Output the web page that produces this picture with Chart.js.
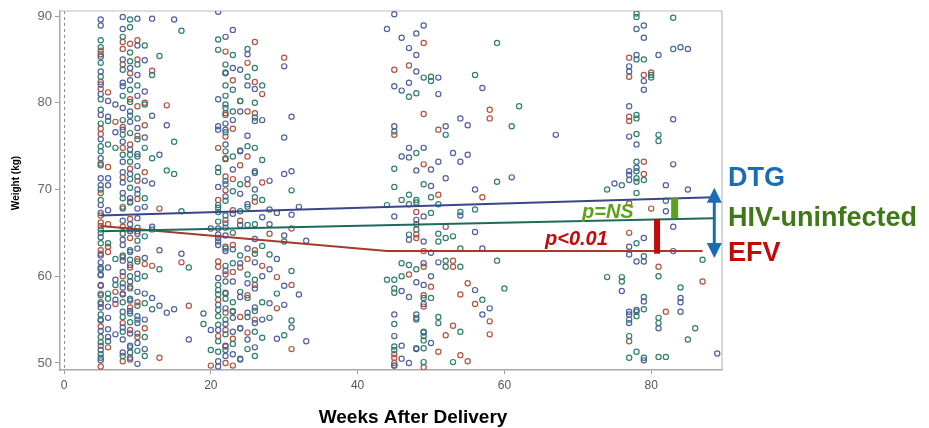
<!DOCTYPE html>
<html>
<head>
<meta charset="utf-8">
<script src="https://cdn.jsdelivr.net/npm/chart.js@4.4.1/dist/chart.umd.min.js"></script>
<style>
  html, body { margin: 0; padding: 0; background: #ffffff; }
  #wrap { width: 929px; height: 428px; }
</style>
</head>
<body>
<div id="wrap"><canvas id="chart" width="929" height="428"></canvas></div>
<script>
// Axis ticks
const xTicks = [0, 20, 40, 60, 80];
const yTicks = [50, 60, 70, 80, 90];

// Individual weights (kg) per visit week, one list per group: [week, [weights]]
const dtgVisits = [
  [5, [89.6, 88.9, 85.3, 83.6, 82.1, 81.0, 78.6, 75.8, 73.6, 71.3, 70.5, 68.2, 67.3, 64.5, 62.4, 61.6, 60.8, 60.1, 58.9, 56.4, 54.9, 53.7, 51.5, 50.3]],
  [6, [80.2, 78.4, 71.3, 70.5, 67.6, 61.0, 56.5, 55.2, 53.9, 53.0]],
  [7, [79.8, 76.6, 59.6, 57.3, 53.3]],
  [8, [89.9, 88.5, 85.0, 82.3, 81.9, 79.4, 76.9, 75.5, 73.2, 72.0, 70.8, 69.6, 66.4, 64.2, 63.6, 61.8, 60.5, 58.7, 57.9, 55.9, 54.1, 52.7, 51.2]],
  [9, [84.0, 82.6, 79.0, 77.8, 74.6, 71.8, 69.0, 66.0, 65.2, 62.8, 61.3, 59.4, 57.2, 56.0, 53.4, 51.8, 50.6]],
  [10, [89.7, 86.6, 83.2, 80.8, 77.1, 74.1, 72.7, 70.0, 67.8, 66.7, 64.9, 63.2, 60.3, 58.2, 55.4, 54.6, 52.3, 49.9]],
  [11, [84.9, 81.3, 76.0, 71.0, 68.0, 62.1, 58.0, 55.0, 51.6]],
  [12, [89.7, 78.5, 70.7, 65.7, 57.5]],
  [13, [74.0, 63.0, 56.6]],
  [14, [77.4, 55.8]],
  [15, [89.6, 56.2]],
  [16, [62.6]],
  [17, [52.7]],
  [19, [55.7]],
  [20, [65.5, 53.8]],
  [21, [90.5, 80.4, 77.3, 76.9, 70.3, 65.5, 64.8, 64.4, 64.0, 63.6, 59.8, 56.7, 53.8, 50.2, 49.6]],
  [22, [87.6, 83.5, 79.4, 77.6, 76.6, 75.2, 71.0, 69.2, 66.1, 64.7, 62.9, 60.6, 58.1, 56.3, 54.5, 52.0, 50.8]],
  [23, [88.4, 84.0, 78.0, 72.3, 67.2, 63.1, 59.4, 55.2, 53.6, 51.0]],
  [24, [83.8, 79.0, 74.4, 69.5, 65.9, 61.5, 57.6, 54.0, 50.4]],
  [25, [85.6, 82.0, 76.2, 71.2, 68.3, 63.2, 59.2, 55.8, 52.7]],
  [26, [81.6, 77.9, 72.1, 70.0, 64.3, 61.6, 58.6, 56.4, 54.6, 51.8]],
  [27, [78.0, 66.8, 60.0, 55.0]],
  [28, [71.0, 66.0, 60.8, 56.9]],
  [29, [67.3, 62.0, 52.8]],
  [30, [84.2, 76.0, 71.8, 64.7, 58.9, 56.7]],
  [31, [78.4, 72.1, 67.1, 54.1]],
  [32, [68.0, 57.9]],
  [33, [64.1, 52.5]],
  [44, [88.5]],
  [45, [90.2, 81.9, 77.3, 66.9, 55.6, 53.1, 49.7]],
  [46, [87.5, 81.4, 73.8, 58.3, 52.0, 50.5]],
  [47, [86.3, 82.3, 74.8, 73.7, 64.2, 57.6, 50.0]],
  [48, [88.0, 85.5, 83.6, 72.2, 66.5, 59.3, 55.2, 51.6]],
  [49, [88.9, 74.8, 66.9, 64.0, 61.5, 59.0, 56.8, 53.5]],
  [50, [72.3, 70.4, 62.7, 60.0, 52.3]],
  [51, [82.9, 81.0, 73.2, 61.6]],
  [52, [77.3, 71.3]],
  [53, [74.2]],
  [54, [78.2, 73.2, 67.0]],
  [55, [77.4, 74.0]],
  [56, [70.0, 65.1, 58.4]],
  [57, [81.7, 63.2, 55.6]],
  [58, [56.3]],
  [61, [71.4]],
  [67, [76.3]],
  [75, [70.7]],
  [76, [58.3]],
  [77, [84.2, 83.6, 79.6, 76.1, 72.1, 71.7, 71.1, 63.4, 62.5, 55.9, 55.6, 54.6]],
  [78, [88.5, 85.5, 75.2, 72.5, 61.7, 56.1]],
  [79, [88.9, 87.5, 82.5, 81.5, 64.4, 61.7, 57.1, 50.3]],
  [81, [85.5, 54.0]],
  [82, [70.5, 67.5]],
  [83, [78.1, 72.9, 65.7, 62.9]],
  [84, [86.4, 57.5, 57.0, 55.9]],
  [85, [86.2, 70.0]],
  [89, [51.1]]
];

const hivNegVisits = [
  [5, [87.2, 86.4, 84.6, 83.0, 80.4, 79.2, 77.6, 75.0, 74.4, 72.8, 70.0, 68.8, 65.4, 65.0, 63.8, 61.0, 60.2, 57.8, 57.0, 55.6, 55.0, 53.0, 52.4, 51.0, 50.6]],
  [6, [77.9, 75.2, 63.8, 58.0, 57.4, 52.5]],
  [7, [74.8, 62.0, 59.0]],
  [8, [87.6, 83.8, 80.8, 78.0, 76.3, 74.0, 69.0, 67.8, 64.9, 62.4, 59.2, 57.0, 55.3, 53.6, 50.8]],
  [9, [89.6, 88.7, 85.8, 84.8, 81.5, 80.1, 78.5, 76.5, 74.0, 73.2, 71.2, 70.2, 68.5, 65.4, 63.0, 61.9, 60.0, 58.6, 57.4, 55.7, 54.7, 52.0, 51.2]],
  [10, [84.4, 82.0, 78.2, 75.8, 73.8, 71.5, 69.5, 65.6, 64.1, 61.7, 59.7, 56.6, 55.0, 53.4, 51.4]],
  [11, [86.6, 79.8, 74.8, 69.0, 64.6, 60.0, 56.9, 53.0, 50.8]],
  [12, [83.2, 73.6, 65.4, 56.2]],
  [13, [85.4, 60.8]],
  [14, [72.2]],
  [15, [75.5, 71.8]],
  [16, [88.3, 67.5]],
  [17, [61.0]],
  [19, [54.5]],
  [20, [51.5]],
  [21, [87.3, 86.1, 72.5, 72.0, 68.2, 67.9, 67.4, 66.3, 59.0, 58.4, 57.9, 56.1, 55.4, 54.4, 52.5, 51.3]],
  [22, [84.4, 83.4, 82.0, 80.8, 79.8, 78.8, 76.9, 74.4, 73.5, 70.6, 68.7, 67.0, 65.6, 63.2, 61.2, 59.4, 57.4, 55.0, 53.3, 51.5]],
  [23, [85.5, 81.5, 79.0, 73.8, 69.8, 65.0, 61.5, 57.0, 55.9, 52.2]],
  [24, [80.2, 74.5, 70.6, 67.5, 62.4, 58.2, 54.0, 50.5]],
  [25, [86.2, 83.0, 75.0, 68.0, 65.9, 60.2, 57.5, 55.3, 51.6]],
  [26, [84.0, 80.0, 78.3, 74.8, 71.9, 69.1, 66.0, 62.6, 59.6, 56.0, 53.6, 50.8]],
  [27, [82.0, 73.4, 68.8, 63.5, 57.0, 52.9]],
  [28, [67.7, 62.5, 55.2]],
  [29, [58.0]],
  [30, [64.0, 53.2]],
  [31, [69.9, 60.6, 54.9]],
  [44, [68.2, 59.6]],
  [45, [76.7, 72.4, 70.3, 59.6, 58.6, 58.1, 54.5, 51.9, 51.5, 49.7]],
  [46, [68.8, 61.5, 60.0]],
  [47, [80.7, 69.4, 68.3, 64.8, 61.3]],
  [48, [81.1, 74.2, 68.8, 68.5, 65.4, 60.8, 55.6, 55.0, 51.7]],
  [49, [82.9, 70.6, 57.5, 53.6, 53.1, 52.6, 51.7, 50.1]],
  [50, [83.0, 82.5, 69.1, 67.3, 57.5]],
  [51, [68.3, 64.9, 64.0, 55.3, 54.6]],
  [52, [76.3, 64.4, 61.8, 61.1]],
  [53, [64.6, 50.1]],
  [54, [67.4, 63.2, 61.1, 53.6]],
  [56, [83.2, 67.7]],
  [57, [57.3]],
  [59, [86.9, 70.9, 61.8]],
  [60, [58.6]],
  [61, [77.3]],
  [62, [79.6]],
  [74, [70.0, 59.9]],
  [76, [70.5, 59.9, 59.4]],
  [77, [55.0, 53.1, 50.6]],
  [78, [90.3, 89.9, 85.0, 78.6, 78.2, 76.4, 73.2, 72.1, 71.3, 70.9, 69.6, 63.8, 55.9, 55.4, 51.3]],
  [79, [85.0, 71.1, 62.3, 57.6, 56.2, 50.6]],
  [80, [83.2, 82.9]],
  [81, [76.3, 75.6, 60.0, 55.2, 54.6, 50.7]],
  [82, [68.7, 50.7]],
  [83, [89.8, 86.2]],
  [84, [58.7]],
  [85, [52.7]],
  [86, [54.0]],
  [87, [61.9]]
];

const efvVisits = [
  [5, [86.0, 85.6, 82.4, 81.6, 77.0, 76.4, 73.0, 69.6, 67.0, 66.2, 65.8, 63.0, 62.6, 59.0, 58.0, 56.8, 54.2, 52.0, 49.6]],
  [6, [81.2, 72.6, 66.0, 63.4, 62.8, 51.8]],
  [7, [77.8, 58.2, 56.8]],
  [8, [87.0, 86.2, 84.4, 77.2, 74.8, 71.4, 68.0, 65.7, 62.2, 60.0, 58.0, 54.6, 50.2]],
  [9, [86.8, 83.4, 80.4, 75.2, 72.4, 68.6, 66.6, 64.4, 61.0, 58.8, 56.4, 53.8, 50.4]],
  [10, [87.2, 85.0, 79.6, 76.2, 71.0, 68.9, 65.2, 62.0, 57.0, 53.0]],
  [11, [80.0, 77.4, 72.0, 61.4, 54.0]],
  [12, [83.7, 61.2]],
  [13, [67.8, 50.6]],
  [14, [79.7]],
  [16, [61.6]],
  [17, [56.6]],
  [20, [49.7]],
  [21, [74.8, 68.8, 61.7, 61.1, 57.3, 53.1]],
  [22, [85.9, 78.6, 76.1, 73.6, 71.5, 69.9, 66.5, 63.4, 60.2, 58.0, 55.8, 53.8, 51.9, 50.0]],
  [23, [82.6, 77.0, 71.2, 67.6, 63.6, 60.5, 56.0, 52.8, 49.7]],
  [24, [80.2, 72.8, 66.4, 61.0, 55.3]],
  [25, [84.6, 79.0, 73.8, 70.6, 62.0, 57.8, 53.5]],
  [26, [87.0, 82.4, 78.8, 68.6, 63.0, 59.0, 55.0]],
  [27, [81.0, 70.8, 61.2]],
  [28, [64.9]],
  [29, [59.9, 56.3]],
  [30, [85.2]],
  [31, [65.5, 59.0, 51.6]],
  [45, [83.8, 76.3, 51.0, 50.6, 50.0]],
  [47, [84.3, 60.2]],
  [48, [67.4, 66.0, 64.8, 64.4]],
  [49, [86.9, 78.7, 72.9, 62.9, 61.1, 57.8, 56.5, 49.5]],
  [50, [58.8]],
  [51, [76.9, 69.4, 51.3]],
  [52, [65.7, 53.2]],
  [53, [61.8, 61.1, 54.3]],
  [54, [57.9, 50.9]],
  [55, [59.2, 50.2]],
  [56, [56.8]],
  [57, [69.1]],
  [58, [79.2, 78.2, 54.8, 53.3]],
  [77, [85.2, 83.0, 78.4, 77.9, 68.4, 65.0, 52.5]],
  [79, [83.2, 73.2, 71.8]],
  [80, [83.5, 67.8]],
  [81, [61.1]],
  [82, [55.9]],
  [87, [59.4]]
];

// Fitted weight trajectories: [week, kg]
const dtgFit = [[5, 67.0], [88.5, 69.1]];
const hivNegFit = [[5, 65.2], [88.5, 66.7]];
const efvFit = [[5, 65.8], [44, 62.9], [87, 62.9]];

// Between-group gaps at end of follow-up: [week, lower kg, upper kg]
const nsGap = [83.2, 66.7, 69.0];
const efvGap = [80.8, 62.6, 66.6];
const spreadArrow = [88.6, 62.1, 70.2];

const groupNames = ['DTG', 'HIV-uninfected', 'EFV'];
const pLabels = ['p=NS', 'p<0.01'];
const xTitle = 'Weeks After Delivery';
const yTitle = 'Weight (kg)';

const toPoints = visits => visits.flatMap(([wk, ws]) => ws.map(w => ({ x: wk, y: w })));
const toLine = pts => pts.map(([x, y]) => ({ x, y }));

const FONT = '"Liberation Sans", Arial, sans-serif';
const NARROW = '"Liberation Sans Narrow", "Liberation Sans", Arial, sans-serif';

const pointSet = (label, visits, color) => ({
  type: 'scatter', label, data: toPoints(visits), order: 2,
  pointRadius: 2.6, pointBorderWidth: 1.2, pointBorderColor: color,
  pointBackgroundColor: 'rgba(255,255,255,0)', showLine: false
});
const lineSet = (label, pts, color) => ({
  type: 'line', label, data: toLine(pts), order: 1,
  borderColor: color, borderWidth: 2, pointRadius: 0, fill: false, tension: 0
});

const decorations = {
  id: 'decorations',
  beforeDatasetsDraw(chart) {
    const { ctx, chartArea: a, scales: { x } } = chart;
    ctx.save();
    // reference line at delivery
    const x0 = x.getPixelForValue(0);
    ctx.strokeStyle = '#8a8a8a';
    ctx.lineWidth = 1;
    ctx.setLineDash([3, 3]);
    ctx.beginPath();
    ctx.moveTo(x0 + 0.5, a.top);
    ctx.lineTo(x0 + 0.5, a.bottom);
    ctx.stroke();
    ctx.setLineDash([]);
    // frame: top and right edges
    ctx.strokeStyle = '#bdbdbd';
    ctx.lineWidth = 1.2;
    ctx.beginPath();
    ctx.moveTo(a.left, a.top);
    ctx.lineTo(a.right, a.top);
    ctx.lineTo(a.right, a.bottom);
    ctx.stroke();
    ctx.restore();
  },
  afterDraw(chart) {
    const { ctx, scales: { x, y } } = chart;
    ctx.save();
    // gap bars
    const bar = (g, color, w) => {
      const px = x.getPixelForValue(g[0]);
      const top = y.getPixelForValue(g[2]);
      const bot = y.getPixelForValue(g[1]);
      ctx.fillStyle = color;
      ctx.fillRect(px - w / 2, top, w, bot - top);
    };
    bar(nsGap, '#5da21c', 7);
    bar(efvGap, '#c20a0a', 6);

    // double-headed arrow
    const ax = x.getPixelForValue(spreadArrow[0]);
    const aTop = y.getPixelForValue(spreadArrow[2]);
    const aBot = y.getPixelForValue(spreadArrow[1]);
    const hw = 7.5, hl = 15;
    ctx.fillStyle = '#1b6cb8';
    ctx.strokeStyle = '#1b6cb8';
    ctx.lineWidth = 3;
    ctx.beginPath();
    ctx.moveTo(ax, aTop + hl - 2);
    ctx.lineTo(ax, aBot - hl + 2);
    ctx.stroke();
    ctx.beginPath();
    ctx.moveTo(ax, aTop);
    ctx.lineTo(ax - hw, aTop + hl);
    ctx.lineTo(ax + hw, aTop + hl);
    ctx.closePath();
    ctx.fill();
    ctx.beginPath();
    ctx.moveTo(ax, aBot);
    ctx.lineTo(ax - hw, aBot - hl);
    ctx.lineTo(ax + hw, aBot - hl);
    ctx.closePath();
    ctx.fill();

    // p-value labels
    ctx.textAlign = 'left';
    ctx.textBaseline = 'alphabetic';
    ctx.font = 'italic bold 20px ' + FONT;
    ctx.fillStyle = '#5da21c';
    ctx.fillText(pLabels[0], 582, 218);
    ctx.fillStyle = '#c20a0a';
    ctx.fillText(pLabels[1], 545, 245);

    // group labels
    ctx.font = 'bold 27px ' + FONT;
    ctx.fillStyle = '#1b6cb8';
    ctx.fillText(groupNames[0], 728, 186);
    ctx.fillStyle = '#3e7817';
    ctx.fillText(groupNames[1], 728, 226);
    ctx.fillStyle = '#c20a0a';
    ctx.fillText(groupNames[2], 728, 261);

    // axis titles
    ctx.fillStyle = '#000000';
    ctx.font = 'bold 19px ' + FONT;
    ctx.textAlign = 'center';
    ctx.fillText(xTitle, 413, 423);
    ctx.save();
    ctx.translate(19, 183);
    ctx.rotate(-Math.PI / 2);
    ctx.font = 'bold 10px ' + FONT;
    ctx.fillText(yTitle, 0, 0);
    ctx.restore();
    ctx.restore();
  }
};

new Chart(document.getElementById('chart'), {
  data: {
    datasets: [
      lineSet('DTG fit', dtgFit, '#3a4689'),
      lineSet('HIV-uninfected fit', hivNegFit, '#1c6b5c'),
      lineSet('EFV fit', efvFit, '#a53a2a'),
      pointSet('DTG', dtgVisits, '#50609f'),
      pointSet('HIV-uninfected', hivNegVisits, '#2f7f6e'),
      pointSet('EFV', efvVisits, '#b5533f')
    ]
  },
  options: {
    responsive: false,
    animation: false,
    devicePixelRatio: 1,
    layout: { padding: { left: 0, top: 11, right: 207, bottom: 0 } },
    plugins: { legend: { display: false }, tooltip: { enabled: false } },
    scales: {
      x: {
        type: 'linear', min: -0.55, max: 89.65,
        afterBuildTicks: s => { s.ticks = xTicks.map(v => ({ value: v })); },
        afterFit: s => { s.height = 58; },
        grid: { drawOnChartArea: false, drawTicks: true, tickLength: 4, color: '#9a9a9a' },
        border: { display: true, color: '#a8a8a8', width: 1.5 },
        ticks: { color: '#555', font: { family: NARROW, size: 12 }, padding: 4, maxRotation: 0 }
      },
      y: {
        type: 'linear', min: 49.19, max: 90.58,
        afterBuildTicks: s => { s.ticks = yTicks.map(v => ({ value: v })); },
        afterFit: s => { s.width = 60; },
        grid: { drawOnChartArea: false, drawTicks: true, tickLength: 5, color: '#9a9a9a' },
        border: { display: true, color: '#a8a8a8', width: 1.5 },
        ticks: { color: '#666', font: { family: FONT, size: 13 }, padding: 3 }
      }
    }
  },
  plugins: [decorations]
});
</script>
</body>
</html>
